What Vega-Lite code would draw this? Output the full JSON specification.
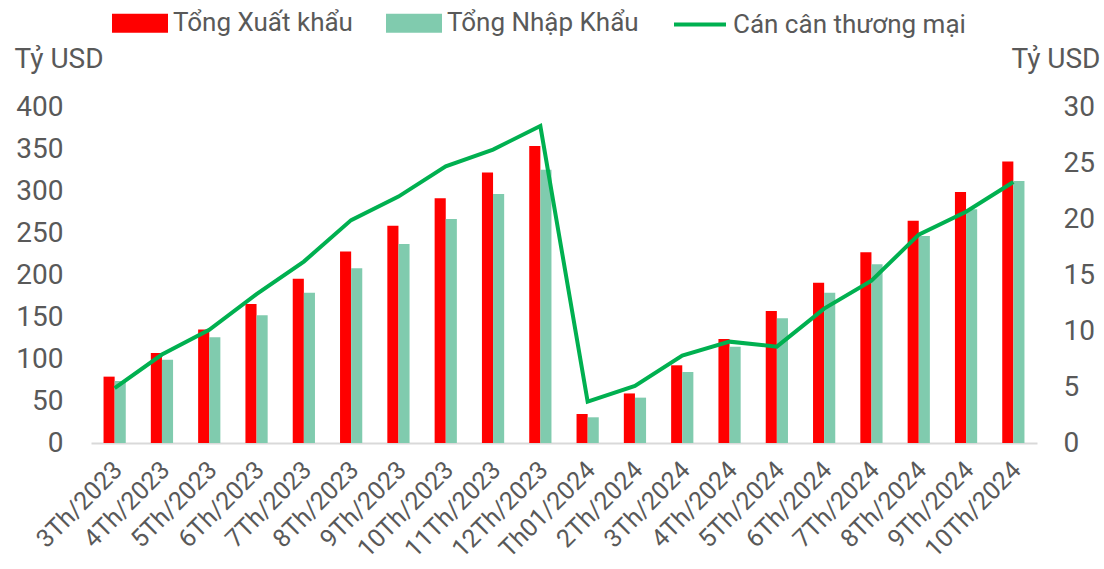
{
  "$schema": "https://vega.github.io/schema/vega-lite/v6.json",
  "width": 946,
  "height": 336,
  "autosize": {"type": "none"},
  "padding": {"left": 91, "top": 107, "right": 67, "bottom": 126},
  "background": "white",
  "config": {
    "view": {"stroke": null},
    "font": "Roboto",
    "axis": {"labelFont": "Roboto", "titleFont": "Roboto", "labelColor": "#595959", "titleColor": "#595959", "grid": false}
  },
  "datasets": {
    "bars": [
      {"thang": "3Th/2023", "chi_tieu": "Tổng Xuất khẩu", "gia_tri": 79},
      {"thang": "3Th/2023", "chi_tieu": "Tổng Nhập Khẩu", "gia_tri": 73.8},
      {"thang": "4Th/2023", "chi_tieu": "Tổng Xuất khẩu", "gia_tri": 107},
      {"thang": "4Th/2023", "chi_tieu": "Tổng Nhập Khẩu", "gia_tri": 99},
      {"thang": "5Th/2023", "chi_tieu": "Tổng Xuất khẩu", "gia_tri": 135},
      {"thang": "5Th/2023", "chi_tieu": "Tổng Nhập Khẩu", "gia_tri": 125.8},
      {"thang": "6Th/2023", "chi_tieu": "Tổng Xuất khẩu", "gia_tri": 165.5},
      {"thang": "6Th/2023", "chi_tieu": "Tổng Nhập Khẩu", "gia_tri": 152},
      {"thang": "7Th/2023", "chi_tieu": "Tổng Xuất khẩu", "gia_tri": 195.6},
      {"thang": "7Th/2023", "chi_tieu": "Tổng Nhập Khẩu", "gia_tri": 179},
      {"thang": "8Th/2023", "chi_tieu": "Tổng Xuất khẩu", "gia_tri": 228},
      {"thang": "8Th/2023", "chi_tieu": "Tổng Nhập Khẩu", "gia_tri": 208},
      {"thang": "9Th/2023", "chi_tieu": "Tổng Xuất khẩu", "gia_tri": 258.7},
      {"thang": "9Th/2023", "chi_tieu": "Tổng Nhập Khẩu", "gia_tri": 237},
      {"thang": "10Th/2023", "chi_tieu": "Tổng Xuất khẩu", "gia_tri": 291.3},
      {"thang": "10Th/2023", "chi_tieu": "Tổng Nhập Khẩu", "gia_tri": 266.7},
      {"thang": "11Th/2023", "chi_tieu": "Tổng Xuất khẩu", "gia_tri": 322},
      {"thang": "11Th/2023", "chi_tieu": "Tổng Nhập Khẩu", "gia_tri": 296.4},
      {"thang": "12Th/2023", "chi_tieu": "Tổng Xuất khẩu", "gia_tri": 353.6},
      {"thang": "12Th/2023", "chi_tieu": "Tổng Nhập Khẩu", "gia_tri": 325.4},
      {"thang": "Th01/2024", "chi_tieu": "Tổng Xuất khẩu", "gia_tri": 34.5},
      {"thang": "Th01/2024", "chi_tieu": "Tổng Nhập Khẩu", "gia_tri": 30.6},
      {"thang": "2Th/2024", "chi_tieu": "Tổng Xuất khẩu", "gia_tri": 59},
      {"thang": "2Th/2024", "chi_tieu": "Tổng Nhập Khẩu", "gia_tri": 54},
      {"thang": "3Th/2024", "chi_tieu": "Tổng Xuất khẩu", "gia_tri": 92.5},
      {"thang": "3Th/2024", "chi_tieu": "Tổng Nhập Khẩu", "gia_tri": 84.5},
      {"thang": "4Th/2024", "chi_tieu": "Tổng Xuất khẩu", "gia_tri": 123.8},
      {"thang": "4Th/2024", "chi_tieu": "Tổng Nhập Khẩu", "gia_tri": 114.7},
      {"thang": "5Th/2024", "chi_tieu": "Tổng Xuất khẩu", "gia_tri": 157},
      {"thang": "5Th/2024", "chi_tieu": "Tổng Nhập Khẩu", "gia_tri": 148.4},
      {"thang": "6Th/2024", "chi_tieu": "Tổng Xuất khẩu", "gia_tri": 190.8},
      {"thang": "6Th/2024", "chi_tieu": "Tổng Nhập Khẩu", "gia_tri": 179},
      {"thang": "7Th/2024", "chi_tieu": "Tổng Xuất khẩu", "gia_tri": 227},
      {"thang": "7Th/2024", "chi_tieu": "Tổng Nhập Khẩu", "gia_tri": 212.7},
      {"thang": "8Th/2024", "chi_tieu": "Tổng Xuất khẩu", "gia_tri": 264.7},
      {"thang": "8Th/2024", "chi_tieu": "Tổng Nhập Khẩu", "gia_tri": 246.4},
      {"thang": "9Th/2024", "chi_tieu": "Tổng Xuất khẩu", "gia_tri": 298.8},
      {"thang": "9Th/2024", "chi_tieu": "Tổng Nhập Khẩu", "gia_tri": 278.2},
      {"thang": "10Th/2024", "chi_tieu": "Tổng Xuất khẩu", "gia_tri": 335},
      {"thang": "10Th/2024", "chi_tieu": "Tổng Nhập Khẩu", "gia_tri": 312}
    ],
    "balance": [
      {"thang": "3Th/2023", "can_can": 4.9},
      {"thang": "4Th/2023", "can_can": 7.9},
      {"thang": "5Th/2023", "can_can": 10.1},
      {"thang": "6Th/2023", "can_can": 13.3},
      {"thang": "7Th/2023", "can_can": 16.2},
      {"thang": "8Th/2023", "can_can": 19.9},
      {"thang": "9Th/2023", "can_can": 22.0},
      {"thang": "10Th/2023", "can_can": 24.7},
      {"thang": "11Th/2023", "can_can": 26.2},
      {"thang": "12Th/2023", "can_can": 28.3},
      {"thang": "Th01/2024", "can_can": 3.7},
      {"thang": "2Th/2024", "can_can": 5.1},
      {"thang": "3Th/2024", "can_can": 7.8},
      {"thang": "4Th/2024", "can_can": 9.05},
      {"thang": "5Th/2024", "can_can": 8.6},
      {"thang": "6Th/2024", "can_can": 12.0},
      {"thang": "7Th/2024", "can_can": 14.5},
      {"thang": "8Th/2024", "can_can": 18.6},
      {"thang": "9Th/2024", "can_can": 20.65},
      {"thang": "10Th/2024", "can_can": 23.3}
    ]
  },
  "layer": [
    {
      "data": {"name": "bars"},
      "mark": {"type": "bar"},
      "encoding": {
        "x": {
          "field": "thang", "type": "nominal", "sort": null,
          "scale": {"paddingInner": 0.53, "paddingOuter": 0.265},
          "axis": {
            "title": null, "labelAngle": -45, "labelFontSize": 25, "labelPadding": 14, "labelOffset": -5,
            "ticks": false, "domainColor": "#D9D9D9", "domainWidth": 2
          }
        },
        "xOffset": {
          "field": "chi_tieu", "type": "nominal",
          "scale": {"domain": ["Tổng Xuất khẩu", "Tổng Nhập Khẩu"], "paddingInner": 0, "paddingOuter": 0}
        },
        "y": {
          "field": "gia_tri", "type": "quantitative",
          "scale": {"domain": [0, 400], "nice": false},
          "axis": {
            "values": [0, 50, 100, 150, 200, 250, 300, 350, 400],
            "domain": false, "ticks": false, "labelPadding": 28, "labelFontSize": 28,
            "title": "Tỷ USD", "titleFontSize": 28, "titleFontWeight": "normal",
            "titleAngle": 0, "titleAlign": "left", "titleBaseline": "alphabetic",
            "titleX": -77, "titleY": -40
          }
        },
        "color": {
          "field": "chi_tieu", "type": "nominal",
          "scale": {
            "domain": ["Tổng Xuất khẩu", "Tổng Nhập Khẩu", "Cán cân thương mại"],
            "range": ["#FF0000", "#80CBAE", "#00B050"]
          },
          "legend": {
            "title": null, "orient": "none", "direction": "horizontal",
            "legendX": 21, "legendY": -112,
            "labelFont": "Roboto", "labelFontSize": 26, "labelColor": "#595959", "labelLimit": 0,
            "labelOffset": 5, "columnPadding": 27, "symbolSize": 2704,
            "symbolStrokeWidth": 4,
            "encode": {
              "symbols": {
                "update": {
                  "shape": {"signal": "datum.value === 'Cán cân thương mại' ? 'M-1,0H1' : 'M-1,-0.29H1V0.29H-1Z'"},
                  "fill": {"signal": "datum.value === 'Tổng Xuất khẩu' ? '#FF0000' : datum.value === 'Tổng Nhập Khẩu' ? '#80CBAE' : 'transparent'"},
                  "stroke": {"signal": "datum.value === 'Cán cân thương mại' ? '#00B050' : 'transparent'"},
                  "strokeWidth": {"value": 4},
                  "opacity": {"value": 1}
                }
              }
            }
          }
        }
      }
    },
    {
      "data": {"name": "balance"},
      "mark": {"type": "line", "strokeWidth": 4, "color": "#00B050"},
      "encoding": {
        "x": {"field": "thang", "type": "nominal", "sort": null},
        "y": {
          "field": "can_can", "type": "quantitative",
          "scale": {"domain": [0, 30], "nice": false},
          "axis": {
            "orient": "right",
            "values": [0, 5, 10, 15, 20, 25, 30],
            "domain": false, "ticks": false, "labelPadding": 26, "labelFontSize": 28,
            "title": "Tỷ USD", "titleFontSize": 28, "titleFontWeight": "normal",
            "titleAngle": 0, "titleAlign": "right", "titleBaseline": "alphabetic",
            "titleX": 63, "titleY": -40
          }
        },
        "color": {"datum": "Cán cân thương mại"}
      }
    }
  ],
  "resolve": {"scale": {"y": "independent"}}
}
